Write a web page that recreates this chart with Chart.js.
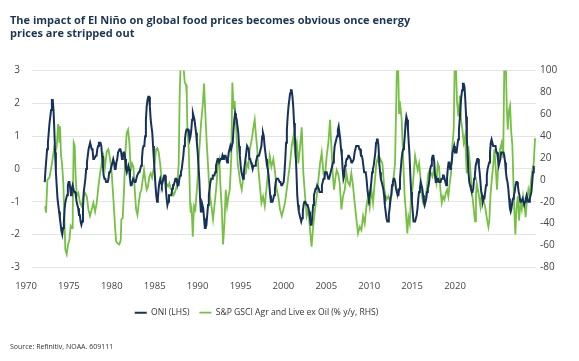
<!DOCTYPE html>
<html><head><meta charset="utf-8">
<script src="https://cdn.jsdelivr.net/npm/chart.js@4"></script>
<style>
html,body{margin:0;padding:0;background:#fff;}
#wrap{position:relative;width:579px;height:361px;overflow:hidden;background:#fff;}
#title{position:absolute;left:10px;top:13px;font:bold 11px 'Open Sans',sans-serif;color:#1c3553;line-height:13px;white-space:nowrap;}
#source{position:absolute;left:10px;top:342px;font:7px 'Open Sans',sans-serif;color:#333;white-space:nowrap;}
canvas{position:absolute;left:0;top:0;}
</style></head><body>
<div id="wrap">
<canvas id="c" width="579" height="361"></canvas>
<div id="title">The impact of El Niño on global food prices becomes obvious once energy<br>prices are stripped out</div>
<div id="source">Source: Refinitiv, NOAA. 609111</div>
</div>
<script>
// ONI, 3-month running means, first value = JFM 1972 (centred on Feb 1972)
const oniStartYear = 1972;
const oniStartMonth = 1; // 0 = Jan
const oni = [
 -0.4,0.0,0.3,0.6,0.8,1.1,1.4,1.6,1.8,2.1,2.1,
 1.8,1.2,0.5,-0.1,-0.5,-0.9,-1.1,-1.3,-1.5,-1.7,-1.9,-2.0,
 -1.8,-1.6,-1.2,-1.0,-0.9,-0.8,-0.5,-0.4,-0.4,-0.6,-0.8,-0.6,
 -0.5,-0.6,-0.7,-0.7,-0.8,-1.0,-1.1,-1.2,-1.4,-1.4,-1.6,-1.7,
 -1.6,-1.2,-0.7,-0.5,-0.3,0.0,0.2,0.4,0.6,0.7,0.8,0.8,
 0.6,0.6,0.3,0.3,0.3,0.4,0.4,0.6,0.7,0.8,0.8,0.8,
 0.7,0.4,0.1,-0.2,-0.3,-0.3,-0.4,-0.4,-0.4,-0.3,-0.1,-0.1,
 -0.1,0.1,0.2,0.3,0.2,0.0,0.0,0.2,0.3,0.5,0.5,0.6,
 0.6,0.5,0.3,0.4,0.5,0.5,0.3,0.0,-0.1,0.0,0.1,0.0,
 -0.3,-0.5,-0.5,-0.4,-0.3,-0.3,-0.4,-0.4,-0.3,-0.2,-0.2,-0.1,
 -0.1,0.0,0.1,0.3,0.6,0.7,0.7,1.0,1.5,1.9,2.1,2.2,
 2.2,1.9,1.5,1.3,1.1,0.7,0.3,-0.1,-0.5,-0.8,-1.0,-0.9,
 -0.6,-0.4,-0.3,-0.4,-0.5,-0.4,-0.3,-0.2,-0.2,-0.6,-0.9,-1.1,
 -1.0,-0.8,-0.8,-0.8,-0.8,-0.6,-0.5,-0.5,-0.4,-0.3,-0.3,-0.4,
 -0.5,-0.5,-0.3,-0.2,-0.1,0.0,0.2,0.4,0.7,0.9,1.1,1.2,
 1.2,1.2,1.1,0.9,1.0,1.2,1.5,1.7,1.6,1.5,1.3,1.1,
 0.8,0.5,0.1,-0.3,-0.9,-1.3,-1.3,-1.1,-1.2,-1.5,-1.8,-1.8,
 -1.7,-1.4,-1.1,-0.8,-0.6,-0.4,-0.3,-0.3,-0.2,-0.2,-0.2,-0.1,
 0.1,0.2,0.3,0.3,0.2,0.2,0.3,0.3,0.4,0.3,0.4,0.4,
 0.4,0.3,0.2,0.3,0.5,0.6,0.7,0.6,0.6,0.8,1.2,1.5,
 1.7,1.6,1.5,1.3,1.1,0.7,0.4,0.1,-0.1,-0.2,-0.3,-0.1,
 0.1,0.3,0.5,0.7,0.7,0.6,0.3,0.3,0.2,0.1,0.0,0.1,
 0.1,0.1,0.2,0.3,0.4,0.4,0.4,0.4,0.6,0.7,1.0,1.1,
 1.0,0.7,0.5,0.3,0.1,0.0,-0.2,-0.5,-0.8,-1.0,-1.0,-1.0,
 -0.9,-0.8,-0.6,-0.4,-0.3,-0.3,-0.3,-0.3,-0.4,-0.4,-0.5,-0.5,
 -0.5,-0.4,-0.1,0.3,0.8,1.2,1.6,1.9,2.1,2.3,2.4,2.4,
 2.2,1.9,1.4,1.0,0.5,-0.1,-0.8,-1.1,-1.3,-1.4,-1.5,-1.6,
 -1.5,-1.3,-1.1,-1.0,-1.0,-1.0,-1.1,-1.1,-1.2,-1.3,-1.5,-1.7,
 -1.7,-1.4,-1.1,-0.8,-0.7,-0.6,-0.6,-0.5,-0.5,-0.6,-0.7,-0.7,
 -0.7,-0.5,-0.4,-0.3,-0.3,-0.1,-0.1,-0.1,-0.2,-0.3,-0.3,-0.3,
 -0.1,0.0,0.1,0.2,0.4,0.7,0.8,0.9,1.0,1.2,1.3,1.1,
 0.9,0.6,0.4,0.0,-0.3,-0.2,0.1,0.2,0.3,0.3,0.4,0.4,
 0.4,0.3,0.2,0.2,0.2,0.3,0.5,0.6,0.7,0.7,0.7,0.7,
 0.6,0.6,0.4,0.4,0.3,0.1,-0.1,-0.1,-0.1,-0.3,-0.6,-0.8,
 -0.9,-0.8,-0.6,-0.4,-0.1,0.0,0.1,0.3,0.5,0.8,0.9,0.9,
 0.7,0.2,-0.1,-0.3,-0.4,-0.5,-0.6,-0.8,-1.1,-1.3,-1.5,-1.6,
 -1.6,-1.4,-1.2,-0.9,-0.8,-0.5,-0.4,-0.3,-0.3,-0.4,-0.6,-0.7,
 -0.8,-0.8,-0.6,-0.3,0.0,0.3,0.5,0.6,0.7,1.0,1.4,1.6,
 1.5,1.2,0.8,0.4,-0.2,-0.7,-1.0,-1.3,-1.6,-1.6,-1.6,-1.6,
 -1.4,-1.2,-0.9,-0.7,-0.6,-0.4,-0.5,-0.6,-0.8,-1.0,-1.1,-1.0,
 -0.9,-0.7,-0.6,-0.5,-0.3,0.0,0.1,0.3,0.4,0.4,0.2,-0.2,
 -0.4,-0.4,-0.3,-0.3,-0.4,-0.4,-0.4,-0.3,-0.3,-0.2,-0.2,-0.3,
 -0.4,-0.5,-0.3,0.0,0.2,0.2,0.0,0.1,0.2,0.5,0.6,0.7,
 0.5,0.5,0.5,0.7,0.9,1.2,1.5,1.9,2.2,2.4,2.6,2.6,
 2.5,2.1,1.6,0.9,0.4,-0.1,-0.4,-0.5,-0.6,-0.7,-0.7,-0.6,
 -0.3,-0.2,0.1,0.2,0.3,0.3,0.1,-0.1,-0.4,-0.7,-0.8,-1.0,
 -0.9,-0.9,-0.7,-0.5,-0.2,0.0,0.1,0.2,0.5,0.8,0.9,0.8,
 0.7,0.7,0.7,0.7,0.5,0.5,0.3,0.1,0.2,0.3,0.5,0.5,
 0.5,0.5,0.4,0.2,-0.1,-0.3,-0.4,-0.6,-0.9,-1.2,-1.3,-1.2,
 -1.0,-0.9,-0.8,-0.7,-0.5,-0.4,-0.4,-0.5,-0.7,-0.8,-1.0,-1.0,
 -1.0,-0.9,-1.0,-1.1,-1.0,-0.9,-0.8,-0.9,-1.0,-1.0,-0.9,-0.8,
 -0.7,-0.4,-0.1,0.1
];

// S&P GSCI Agriculture & Livestock ex Oil, % y/y (decimal-year dates)
const gsciDates = [
 1972.12,1972.22,1972.36,1972.57,1972.78,1972.92,1973.06,1973.2,1973.34,1973.48,1973.62,1973.68,1973.79,1973.89,
 1974.03,1974.14,1974.24,1974.38,1974.52,1974.66,1974.8,1974.94,1975.01,1975.11,1975.22,1975.32,1975.43,1975.6,1975.78,1975.95,
 1976.13,1976.3,1976.48,1976.65,1976.82,1977.0,1977.17,1977.35,1977.52,1977.7,1977.87,1978.04,1978.22,1978.39,1978.57,1978.74,1978.92,
 1979.09,1979.27,1979.44,1979.55,1979.68,1979.89,1980.03,1980.1,1980.24,1980.38,1980.52,1980.66,1980.8,1980.94,
 1981.08,1981.22,1981.36,1981.5,1981.64,1981.78,1981.92,1982.06,1982.2,1982.33,1982.47,1982.61,1982.75,1982.89,
 1983.03,1983.17,1983.31,1983.45,1983.59,1983.73,1983.87,1984.01,1984.15,1984.29,1984.43,1984.57,1984.71,1984.85,1984.98,
 1985.12,1985.26,1985.4,1985.54,1985.68,1985.82,1985.96,1986.1,1986.2,1986.31,1986.45,1986.59,1986.73,1986.87,1986.94,
 1987.01,1987.15,1987.22,1987.29,1987.36,1987.43,1987.5,1987.57,1987.64,1987.71,1987.84,1988.05,1988.26,1988.44,1988.61,1988.75,1988.89,
 1989.03,1989.17,1989.27,1989.38,1989.52,1989.69,1989.87,1990.05,1990.2,1990.35,1990.46,1990.6,1990.74,1990.88,
 1991.02,1991.16,1991.3,1991.44,1991.6,1991.71,1991.85,1991.95,1992.1,1992.27,1992.41,1992.55,1992.69,1992.83,1992.97,
 1993.11,1993.25,1993.39,1993.53,1993.67,1993.8,1993.88,1994.05,1994.16,1994.3,1994.44,1994.6,1994.75,1994.92,
 1995.1,1995.27,1995.45,1995.62,1995.8,1996.0,1996.17,1996.35,1996.52,1996.7,1996.88,
 1997.05,1997.22,1997.4,1997.57,1997.75,1997.92,1998.1,1998.27,1998.45,1998.62,1998.8,1998.97,
 1999.14,1999.32,1999.49,1999.67,1999.84,2000.0,2000.19,2000.36,2000.54,2000.71,2000.89,
 2001.06,2001.24,2001.4,2001.58,2001.76,2001.93,2002.07,2002.21,2002.35,2002.5,2002.63,2002.8,2002.94,
 2003.12,2003.29,2003.47,2003.65,2003.8,2003.99,2004.16,2004.33,2004.51,2004.69,2004.86,
 2005.04,2005.21,2005.39,2005.56,2005.74,2005.91,2006.08,2006.26,2006.43,2006.6,2006.78,2006.92,
 2007.06,2007.2,2007.41,2007.62,2007.83,2008.04,2008.25,2008.45,2008.59,2008.73,2008.87,2008.94,
 2009.05,2009.15,2009.22,2009.33,2009.43,2009.53,2009.64,2009.74,2009.85,2009.92,
 2010.02,2010.13,2010.27,2010.41,2010.55,2010.69,2010.83,2010.97,
 2011.11,2011.25,2011.38,2011.52,2011.66,2011.8,2011.94,2012.08,2012.22,2012.36,2012.5,2012.64,2012.78,2012.92,
 2013.06,2013.2,2013.34,2013.48,2013.62,2013.76,2013.9,2014.04,2014.18,2014.31,2014.45,2014.59,2014.73,2014.87,2014.98,
 2015.08,2015.22,2015.36,2015.53,2015.64,2015.78,2015.92,2016.06,2016.23,2016.4,2016.57,2016.75,2016.9,
 2017.1,2017.2,2017.28,2017.4,2017.52,2017.66,2017.8,2017.97,2018.15,2018.32,2018.5,2018.6,2018.71,2018.85,
 2019.02,2019.13,2019.27,2019.4,2019.54,2019.72,2019.89,2020.05,2020.17,2020.31,2020.42,2020.52,2020.66,2020.77,2020.87,
 2021.01,2021.11,2021.22,2021.32,2021.43,2021.57,2021.71,2021.85,2021.99,2022.13,2022.27,2022.4,2022.54,2022.68,2022.82,2022.96,
 2023.1,2023.24,2023.38
];
const gsciValues = [
 -24,-30,0,2,12,20,29,25,31,51,34,49,22,15,
 -3,-36,-64,-68,-59,-55,-42,-44,-30,34,31,3,-15,-12,-21,-24,
 -15,-12,-15,-27,-33,-27,-21,-29,-21,-6,6,15,22,12,26,28,19,
 6,-18,-43,-56,-58,-59,-55,-36,-35,-9,25,43,46,34,
 9,15,12,-9,-27,-32,-21,-12,-9,0,9,-1,-9,-6,
 3,6,2,9,15,28,29,25,15,3,0,2,-1,-4,-6,
 -3,-8,-9,-14,-12,-8,-3,15,77,110,110,105,89,87,77,
 46,28,6,-21,-30,-24,-36,-52,-36,-24,-27,-3,28,52,68,88,60,
 34,13,-3,-15,-24,-36,-21,-5,15,19,-5,-25,-59,-40,
 -9,-24,-15,-9,20,89,65,72,50,15,6,-3,-9,0,5,
 6,15,12,28,34,40,46,55,43,30,9,-6,-21,-15,
 -24,-9,8,22,12,19,8,-9,-15,-27,-33,
 -27,-21,-9,3,15,31,40,25,34,15,31,48,
 6,-15,-33,-27,-46,-61,-40,-27,-15,0,15,
 25,6,3,22,34,55,31,6,-9,2,9,5,-3,
 -27,-15,-9,6,-2,-5,6,-5,-21,-36,-49,
 -43,-46,-33,-40,-24,-15,-25,-9,-21,-3,15,20,
 15,19,15,-9,-18,-15,-21,-9,3,15,77,110,
 110,61,72,64,55,31,6,-15,-27,-37,
 -49,-34,-40,-15,-9,6,22,15,
 9,15,3,-12,-21,-24,-15,-6,6,9,6,3,9,3,
 -3,15,12,-9,-21,-15,-18,-12,-9,-15,-3,6,31,46,110,
 110,71,58,77,55,46,34,40,6,31,15,-9,-21,
 -38,-15,-3,-9,-15,-24,-12,-18,-24,-34,-43,-37,-15,0,
 15,28,10,-9,15,28,34,20,110,110,68,46,64,68,46,
 31,0,-30,-50,-27,-15,-37,-21,-27,-15,-24,-34,-18,-9,-15,0,
 9,15,38
];

const xTickYears = [1970,1975,1980,1985,1990,1995,2000,2005,2010,2015,2020];
const yLeftTicks = [-3,-2,-1,0,1,2,3];
const yRightTicks = [-80,-60,-40,-20,0,20,40,60,80,100];

const oniPoints = oni.map((v,i)=>({x: oniStartYear + (oniStartMonth + i)/12, y: v}));
const gsciPoints = gsciDates.map((d,i)=>({x: d, y: gsciValues[i]}));

const tickFont = {family:"'Open Sans', sans-serif", size:10};
const legendShift = {id:'legendShift', afterLayout(chart){ const l = chart.legend; if(l){ l.left -= 33; l.right -= 33; } }};

new Chart(document.getElementById('c'), {
  type:'line',
  data:{datasets:[
    {label:'ONI (LHS)', data: oniPoints, borderColor:'#17325a', backgroundColor:'#17325a', borderWidth:2, pointRadius:0, tension:0, xAxisID:'x', yAxisID:'y'},
    {label:'S&P GSCI Agr and Live ex Oil (% y/y, RHS)', data: gsciPoints, borderColor:'#76c043', backgroundColor:'#76c043', borderWidth:1.8, pointRadius:0, tension:0, xAxisID:'x', yAxisID:'y1'}
  ]},
  options:{
    responsive:false, animation:false, devicePixelRatio:1,
    layout:{padding:{top:70.5,left:0,right:0,bottom:34}},
    plugins:{
      legend:{position:'bottom', labels:{usePointStyle:true, pointStyle:'line', pointStyleWidth:12, color:'#333', padding:10, font:{family:"'Open Sans', sans-serif", size:8.6}}},
      tooltip:{enabled:false}
    },
    scales:{
      x:{type:'linear', display:false, min:1970.75, max:2023.48},
      x2:{type:'linear', axis:'x', position:'bottom', min:1970, max:2028.74,
          grid:{display:false, drawTicks:false}, border:{display:false},
          afterBuildTicks: s=>{ s.ticks = xTickYears.map(v=>({value:v})); },
          afterFit: s=>{ s.height = 31; },
          ticks:{autoSkip:false, maxRotation:0, minRotation:0, labelOffset:-6, padding:13, color:'#444', font:{family:"'Open Sans', sans-serif", size:9.5}, callback: v=>String(v)}},
      y:{type:'linear', position:'left', min:-3, max:3,
         afterBuildTicks: s=>{ s.ticks = yLeftTicks.map(v=>({value:v})); },
         afterFit: s=>{ s.width = 32; },
         grid:{color:'#e4e4e4', lineWidth:1, drawTicks:false}, border:{display:false},
         ticks:{padding:12, color:'#444', font:tickFont}},
      y1:{type:'linear', position:'right', min:-80, max:100,
         afterBuildTicks: s=>{ s.ticks = yRightTicks.map(v=>({value:v})); },
         afterFit: s=>{ s.width = 43; },
         grid:{display:false, drawTicks:false}, border:{display:false},
         ticks:{padding:4, color:'#444', font:tickFont}}
    }
  },
  plugins:[legendShift]
});
</script>
</body></html>
